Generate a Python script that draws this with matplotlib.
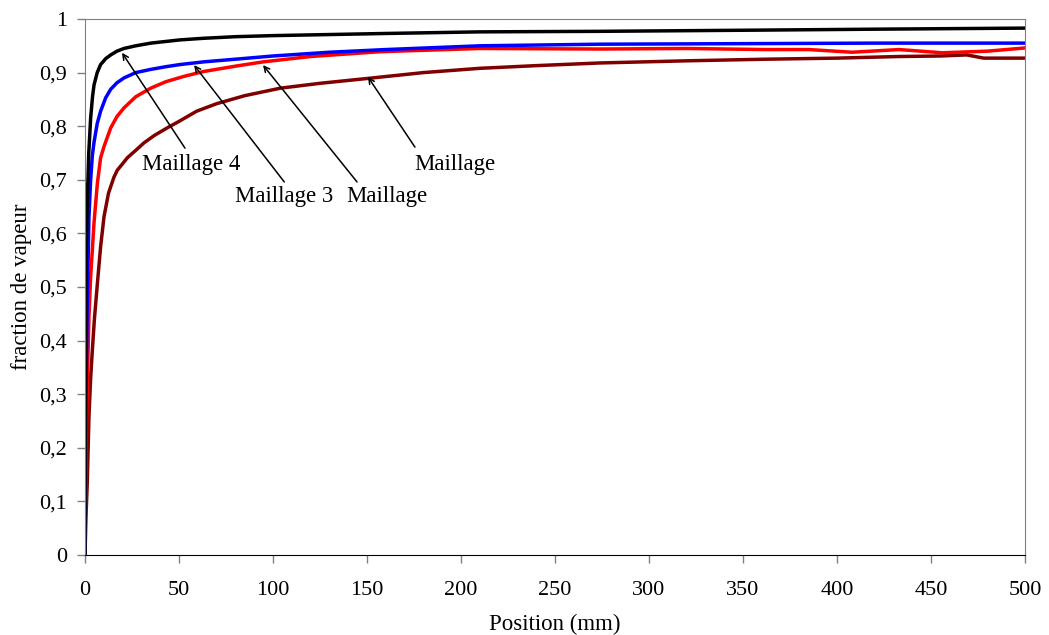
import matplotlib
matplotlib.use("Agg")
import matplotlib.pyplot as plt

plt.rcParams['font.family'] = ['Liberation Serif', 'DejaVu Serif']

# Data
x_m4 = [0, 0.3, 0.6, 1.2, 2, 3, 4, 4.8, 6.5, 8.3, 11, 13.7, 17, 20.7, 27, 35, 50.5, 63, 80, 100, 130, 160, 210, 274, 350, 420, 500]
y_m4 = [0, 0.35, 0.55, 0.66, 0.75, 0.815, 0.855, 0.877, 0.9, 0.915, 0.926, 0.933, 0.94, 0.945, 0.95, 0.955, 0.961, 0.964, 0.967, 0.969, 0.971, 0.973, 0.976, 0.977, 0.979, 0.981, 0.983]

x_m3 = [0, 0.5, 1.2, 2.1, 3, 3.9, 4.8, 6.5, 8.3, 11, 13.7, 17, 20.7, 27, 35, 43, 50.5, 63, 80, 100, 130, 160, 210, 274, 350, 420, 500]
y_m3 = [0, 0.3, 0.47, 0.63, 0.7, 0.745, 0.77, 0.805, 0.828, 0.853, 0.869, 0.881, 0.89, 0.9, 0.906, 0.911, 0.915, 0.92, 0.925, 0.931, 0.938, 0.943, 0.95, 0.953, 0.954, 0.955, 0.955]

x_m2 = [0, 0.4, 0.9, 1.5, 2.1, 3, 3.9, 4.8, 6.6, 8.3, 10.1, 13.7, 17, 20.7, 27, 35, 43, 52.7, 63, 80, 94.7, 120, 157, 210, 274, 320, 362, 385, 408, 433, 456, 480, 500]
y_m2 = [0, 0.15, 0.26, 0.36, 0.445, 0.52, 0.569, 0.62, 0.694, 0.741, 0.762, 0.797, 0.818, 0.834, 0.855, 0.871, 0.883, 0.893, 0.902, 0.912, 0.92, 0.93, 0.939, 0.945, 0.944, 0.945, 0.943, 0.943, 0.938, 0.943, 0.937, 0.94, 0.946]

x_m1 = [0, 0.5, 1.2, 2.1, 3, 3.9, 5, 6.6, 8.3, 10.1, 12.5, 15.4, 17.2, 20, 22.5, 27, 31.4, 37, 43.8, 50, 59.4, 70, 85, 104, 125, 150, 180, 210, 240, 274, 320, 362, 400, 433, 455, 469, 478, 500]
y_m1 = [0, 0.07, 0.134, 0.258, 0.33, 0.382, 0.44, 0.507, 0.575, 0.631, 0.675, 0.705, 0.718, 0.73, 0.741, 0.755, 0.769, 0.783, 0.797, 0.809, 0.828, 0.842, 0.857, 0.871, 0.88, 0.889, 0.9, 0.908, 0.913, 0.918, 0.922, 0.925, 0.927, 0.93, 0.931, 0.933, 0.927, 0.927]

xticks = [0, 50, 100, 150, 200, 250, 300, 350, 400, 450, 500]
yticks = [0, 0.1, 0.2, 0.3, 0.4, 0.5, 0.6, 0.7, 0.8, 0.9, 1.0]
ytick_labels = ['0', '0,1', '0,2', '0,3', '0,4', '0,5', '0,6', '0,7', '0,8', '0,9', '1']

fig = plt.figure(figsize=(10.49, 6.35), dpi=100)
ax = fig.add_axes([85/1049, 1-555/635, 940/1049, 536/635])

ax.plot(x_m1, y_m1, color='#800000', lw=2.5, solid_joinstyle='round')
ax.plot(x_m2, y_m2, color='#ff0000', lw=2.5, solid_joinstyle='round')
ax.plot(x_m3, y_m3, color='#0000ff', lw=2.5, solid_joinstyle='round')
ax.plot(x_m4, y_m4, color='#000000', lw=2.5, solid_joinstyle='round')

ax.set_xlim(0, 500)
ax.set_ylim(0, 1)
ax.set_xticks(xticks)
ax.set_xticklabels([str(t) for t in xticks])
ax.set_yticks(yticks)
ax.set_yticklabels(ytick_labels)
ax.tick_params(axis='both', direction='out', length=6, width=1, color='#808080', labelsize=16)
ax.tick_params(axis='x', pad=13)
ax.tick_params(axis='y', pad=7)

for s in ['top', 'right', 'left']:
    ax.spines[s].set_color('#808080')
ax.spines['bottom'].set_color('#000000')

ax.set_xlabel('Position (mm)', fontsize=16.5, labelpad=10)
ax.set_ylabel('fraction de vapeur', fontsize=16.5, labelpad=5)

arrow = dict(arrowstyle='->', color='black', lw=1.1, shrinkA=0, shrinkB=0)
fs = 16.5
ax.annotate('', xy=(19.7, 0.937), xytext=(53.2, 0.759), arrowprops=arrow)
ax.text(56.4, 0.728, 'Maillage 4', fontsize=fs, ha='center', va='center')
ax.annotate('', xy=(58, 0.914), xytext=(106, 0.696), arrowprops=arrow)
ax.text(105.9, 0.668, 'Maillage 3', fontsize=fs, ha='center', va='center')
ax.annotate('', xy=(94.7, 0.914), xytext=(144.7, 0.696), arrowprops=arrow)
ax.text(160.6, 0.668, 'Maillage', fontsize=fs, ha='center', va='center')
ax.annotate('', xy=(150.5, 0.892), xytext=(175.5, 0.761), arrowprops=arrow)
ax.text(196.8, 0.728, 'Maillage', fontsize=fs, ha='center', va='center')

fig.savefig('out.png', dpi=100)
